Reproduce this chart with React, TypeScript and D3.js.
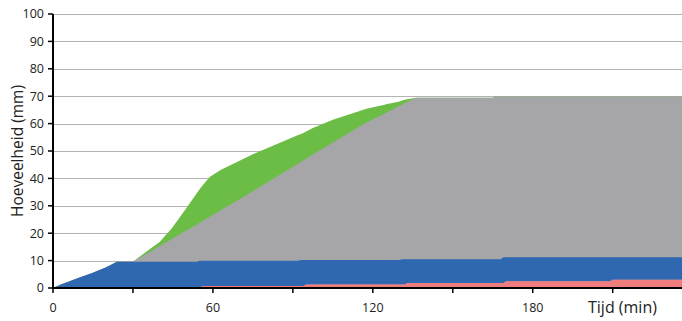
import React from "react";
import * as d3 from "d3";

// Time (min) shared by all series
const times = [0, 3, 10, 15, 20, 24, 30, 36, 40, 44.6, 49, 50.6, 54, 55, 56, 58.9, 62.6, 64, 75, 88.9, 92, 93, 94, 95, 97.5, 105, 117.6, 124, 125, 130, 131, 132, 133, 136, 165, 166, 168, 169, 170, 209, 210, 236];

// Cumulative levels (mm) – top edge of each stacked layer
const redTop = [0, 0, 0, 0, 0, 0, 0, 0, 0, 0, 0, 0, 0, 0, 0.7, 0.7, 0.7, 0.7, 0.7, 0.7, 0.7, 0.7, 0.7, 1.3, 1.3, 1.3, 1.3, 1.3, 1.3, 1.3, 1.3, 1.3, 1.8, 1.8, 1.8, 1.8, 1.8, 1.8, 2.5, 2.5, 3.0, 3.0];
const blueTop = [0, 1.3, 3.8, 5.6, 7.6, 9.6, 9.6, 9.6, 9.6, 9.6, 9.6, 9.6, 9.6, 9.9, 9.9, 9.9, 9.9, 9.9, 9.9, 9.9, 9.9, 10.2, 10.2, 10.2, 10.2, 10.2, 10.2, 10.2, 10.2, 10.2, 10.5, 10.5, 10.5, 10.5, 10.5, 10.5, 10.5, 11.2, 11.2, 11.2, 11.2, 11.2];
const grayTop = [0, 1.3, 3.8, 5.6, 7.6, 9.6, 9.6, 13.0, 15.3, 17.9, 20.4, 21.3, 23.2, 23.8, 24.4, 26.1, 28.2, 29.0, 35.3, 43.6, 45.4, 46.0, 46.6, 47.2, 48.7, 53.1, 60.4, 63.5, 64.0, 66.5, 67.0, 67.5, 68.0, 69.4, 69.4, 70.0, 70.0, 70.0, 70.0, 70.0, 70.0, 70.0];
const greenTop = [0, 1.3, 3.8, 5.6, 7.6, 9.6, 9.6, 14.0, 16.8, 21.8, 27.7, 29.9, 34.7, 36.0, 37.3, 40.6, 42.9, 43.6, 48.8, 54.6, 55.8, 56.2, 56.6, 57.1, 58.4, 61.4, 65.4, 66.8, 67.1, 68.1, 68.4, 68.7, 68.9, 69.4, 69.4, 70.0, 70.0, 70.0, 70.0, 70.0, 70.0, 70.0];

const yTicks = [0, 10, 20, 30, 40, 50, 60, 70, 80, 90, 100];
const xTickMarks = [0, 30, 60, 90, 120, 150, 180, 210];
const xTickLabels = [0, 60, 120, 180];

const W = 682;
const H = 321;
const FONT = "'Open Sans', 'DejaVu Sans', sans-serif";

export default function App() {
  const x = d3.scaleLinear().domain([0, 236]).range([53, 682]);
  const y = d3.scaleLinear().domain([0, 100]).range([288, 14]);

  const layers = [
    { lo: greenTop.map(() => 0), hi: greenTop, color: "#6bbd45" },
    { lo: grayTop.map(() => 0), hi: grayTop, color: "#a6a6a8" },
    { lo: redTop, hi: blueTop, color: "#2f67b1" },
    { lo: redTop.map(() => 0), hi: redTop, color: "#f07d7d" },
  ];

  const areaFor = (lo: number[], hi: number[]) =>
    d3
      .area<number>()
      .x((_, i) => x(times[i]))
      .y0((_, i) => y(lo[i]))
      .y1((_, i) => y(hi[i]))(times);

  return (
    <svg
      width={W}
      height={H}
      style={{ position: "absolute", left: 0, top: 0, background: "#fff" }}
    >
      {yTicks.map((t) => (
        <line
          key={"g" + t}
          x1={53}
          x2={682}
          y1={Math.round(y(t)) + 0.5}
          y2={Math.round(y(t)) + 0.5}
          stroke="#b3b3b3"
          strokeWidth={1}
        />
      ))}
      {layers.map((l, i) => (
        <path key={i} d={areaFor(l.lo, l.hi) || ""} fill={l.color} />
      ))}
      {/* axes */}
      <line x1={53} x2={53} y1={14} y2={289} stroke="#000" strokeWidth={2} />
      <line x1={52} x2={682} y1={288} y2={288} stroke="#000" strokeWidth={2} />
      {yTicks.map((t) => (
        <g key={"yt" + t}>
          <line x1={48} x2={53} y1={y(t)} y2={y(t)} stroke="#000" strokeWidth={1.5} />
          <text
            x={44}
            y={y(t)}
            dy="0.35em"
            textAnchor="end"
            fontFamily={FONT}
            fontSize={12.5}
            fill="#222"
          >
            {t}
          </text>
        </g>
      ))}
      {xTickMarks.map((t) => (
        <line key={"xt" + t} x1={x(t)} x2={x(t)} y1={288} y2={293} stroke="#000" strokeWidth={1.5} />
      ))}
      {xTickLabels.map((t) => (
        <text
          key={"xl" + t}
          x={x(t)}
          y={312}
          textAnchor="middle"
          fontFamily={FONT}
          fontSize={12.5}
          fill="#222"
        >
          {t}
        </text>
      ))}
      <text x={588} y={313} fontFamily={FONT} fontSize={16} fill="#222">
        Tijd (min)
      </text>
      <text
        transform={`translate(23, ${y(50)}) rotate(-90)`}
        textAnchor="middle"
        fontFamily={FONT}
        fontSize={15.5}
        fill="#222"
      >
        Hoeveelheid (mm)
      </text>
    </svg>
  );
}
